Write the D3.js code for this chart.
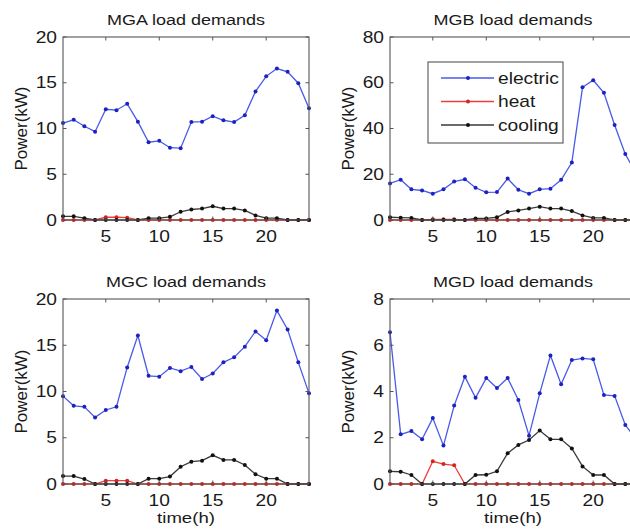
<!DOCTYPE html>
<html><head><meta charset="utf-8">
<script src="https://cdn.jsdelivr.net/npm/d3@7"></script>
<style>body{margin:0;background:#fff}svg{display:block}</style>
</head><body>
<svg id="c" width="630" height="531"></svg>
<script>
const hours = d3.range(1, 25);
const titles = ["MGA load demands", "MGB load demands", "MGC load demands", "MGD load demands"];
const seriesNames = ["electric", "heat", "cooling"];
const yMax = [20, 80, 20, 8];
const yTicks = [[0,5,10,15,20],[0,20,40,60,80],[0,5,10,15,20],[0,2,4,6,8]];
const xTicks = [5,10,15,20];

const electricA = [10.6,10.95,10.25,9.65,12.1,12.0,12.7,10.75,8.5,8.65,7.9,7.85,10.7,10.75,11.35,10.9,10.7,11.45,14.05,15.7,16.55,16.2,14.95,12.2];
const heatA     = [0,0,0,0,0.3,0.3,0.25,0,0,0,0,0,0,0,0,0,0,0,0,0,0,0,0,0];
const coolingA  = [0.4,0.4,0.2,0,0,0,0,0,0.2,0.2,0.35,0.9,1.15,1.25,1.5,1.25,1.25,1.05,0.5,0.2,0.2,0,0,0];

const electricB = [16,17.6,13.4,12.9,11.5,13.4,16.8,17.8,14.1,12.1,12.2,18.1,13.2,11.5,13.4,13.7,17.6,25.1,58,61.1,55.6,41.5,28.8,20.5];
const heatB     = [0,0,0,0,0.3,0.3,0.3,0,0,0,0,0,0,0,0,0,0,0,0,0,0,0,0,0];
const coolingB  = [1.2,1.0,0.9,0,0,0,0,0,0.7,0.7,1.2,3.5,4.2,5.0,5.8,5.0,5.0,3.9,2.0,0.9,0.9,0,0,0];

const electricC = [9.5,8.45,8.35,7.2,8.0,8.35,12.6,16.05,11.7,11.6,12.55,12.2,12.65,11.35,11.95,13.15,13.7,14.85,16.5,15.55,18.75,16.7,13.15,9.8];
const heatC     = [0,0,0,0,0.36,0.36,0.36,0,0,0,0,0,0,0,0,0,0,0,0,0,0,0,0,0];
const coolingC  = [0.86,0.86,0.54,0,0,0,0,0,0.58,0.58,0.8,1.87,2.41,2.52,3.1,2.6,2.6,2.05,1.05,0.58,0.58,0,0,0];

const electricD = [6.56,2.15,2.29,1.93,2.85,1.66,3.39,4.64,3.73,4.58,4.15,4.58,3.63,2.09,3.92,5.56,4.31,5.36,5.43,5.39,3.85,3.81,2.55,1.95];
const heatD     = [0,0,0,0,0.98,0.86,0.81,0,0,0,0,0,0,0,0,0,0,0,0,0,0,0,0,0];
const coolingD  = [0.55,0.53,0.39,0,0,0,0,0,0.39,0.4,0.55,1.33,1.69,1.9,2.31,1.93,1.93,1.54,0.76,0.39,0.39,0,0,0];

const panelData = [
  [electricA, heatA, coolingA],
  [electricB, heatB, coolingB],
  [electricC, heatC, coolingC],
  [electricD, heatD, coolingD]
];

const lineColors = ["#4a5ae8", "#e8403c", "#3a3a3a"];
const dotColors  = ["#1c22c0", "#d8221c", "#111111"];
const FONT = "'Liberation Sans', Arial, Helvetica, sans-serif";
const SX = 1.2;

const boxes = [
  {x0:63, x1:309, y0:37, y1:220},
  {x0:390, x1:636, y0:37, y1:220},
  {x0:63, x1:309, y0:299, y1:484},
  {x0:390, x1:636, y0:299, y1:484}
];

const svg = d3.select("#c");

function stext(g, x, y, str, size, anchor) {
  return g.append("text")
    .attr("transform", `translate(${x},${y}) scale(${SX},1)`)
    .attr("text-anchor", anchor)
    .attr("font-family", FONT)
    .attr("font-size", size)
    .attr("fill", "#1a1a1a")
    .text(str);
}

boxes.forEach((b, i) => {
  const g = svg.append("g");
  const x = d3.scaleLinear().domain([1, 24]).range([b.x0, b.x1]);
  const y = d3.scaleLinear().domain([0, yMax[i]]).range([b.y1, b.y0]);

  panelData[i].forEach((vals, s) => {
    const pts = vals.map((v, k) => [hours[k], v]);
    g.append("path")
      .attr("d", d3.line().x(d => x(d[0])).y(d => y(d[1]))(pts))
      .attr("fill", "none")
      .attr("stroke", lineColors[s])
      .attr("stroke-width", 1.3);
    g.selectAll(null).data(pts).enter().append("circle")
      .attr("cx", d => x(d[0])).attr("cy", d => y(d[1]))
      .attr("r", 2).attr("fill", dotColors[s]);
  });

  g.append("rect").attr("x", b.x0).attr("y", b.y0)
    .attr("width", b.x1 - b.x0).attr("height", b.y1 - b.y0)
    .attr("fill", "none").attr("stroke", "#555").attr("stroke-width", 1.1);

  const tl = 3.5;
  xTicks.forEach(t => {
    g.append("line").attr("x1", x(t)).attr("x2", x(t)).attr("y1", b.y1).attr("y2", b.y1 - tl).attr("stroke", "#555");
    g.append("line").attr("x1", x(t)).attr("x2", x(t)).attr("y1", b.y0).attr("y2", b.y0 + tl).attr("stroke", "#555");
    stext(g, x(t), b.y1 + 21.5, String(t), 16, "middle");
  });
  yTicks[i].forEach(t => {
    g.append("line").attr("x1", b.x0).attr("x2", b.x0 + tl).attr("y1", y(t)).attr("y2", y(t)).attr("stroke", "#555");
    g.append("line").attr("x1", b.x1).attr("x2", b.x1 - tl).attr("y1", y(t)).attr("y2", y(t)).attr("stroke", "#555");
    stext(g, b.x0 - 6, y(t) + 5.6, String(t), 16, "end");
  });

  const cx = (b.x0 + b.x1) / 2;
  stext(g, cx, b.y0 - 12.5, titles[i], 15, "middle");

  g.append("text")
    .attr("transform", `translate(${b.x0 - 36},${(b.y0 + b.y1) / 2}) rotate(-90)`)
    .attr("text-anchor", "middle")
    .attr("font-family", FONT).attr("font-size", 17).attr("fill", "#1a1a1a")
    .text("Power(kW)");

  if (i >= 2) stext(g, cx, b.y1 + 38.5, "time(h)", 15.5, "middle");
});

const lg = svg.append("g");
lg.append("rect").attr("x", 428).attr("y", 62).attr("width", 135).attr("height", 81)
  .attr("fill", "#fff").attr("stroke", "#555").attr("stroke-width", 1.1);
seriesNames.forEach((n, s) => {
  const yy = 78 + s * 23.5;
  lg.append("line").attr("x1", 441).attr("x2", 494).attr("y1", yy).attr("y2", yy)
    .attr("stroke", lineColors[s]).attr("stroke-width", 1.3);
  lg.append("circle").attr("cx", 468).attr("cy", yy).attr("r", 2).attr("fill", dotColors[s]);
  stext(lg, 498, yy + 5.5, n, 16, "start");
});
</script>
</body></html>
